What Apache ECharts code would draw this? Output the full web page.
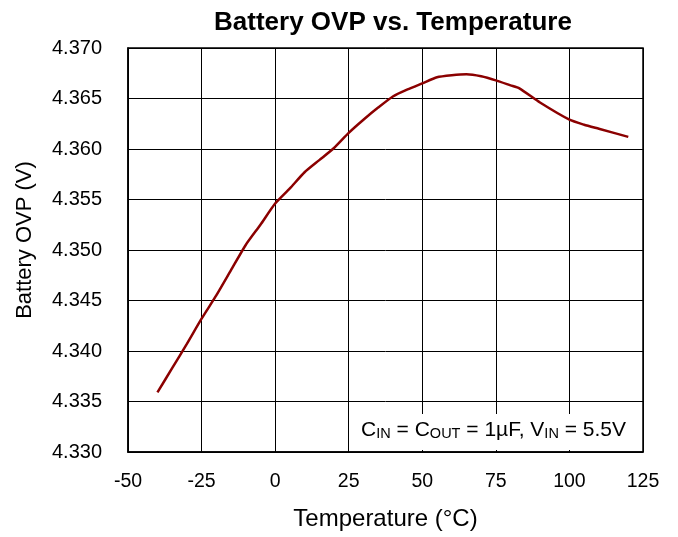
<!DOCTYPE html>
<html>
<head>
<meta charset="utf-8">
<script src="https://cdn.jsdelivr.net/npm/echarts@6/dist/echarts.min.js"></script>
<style>html,body{margin:0;padding:0;background:#fff;}#c{width:678px;height:537px;}</style>
</head>
<body>
<div id="c"></div>
<script>
var temperatures = [-40, -35, -30, -25, -20, -15, -10, -5, 0, 5, 10, 15, 20, 25, 30, 35, 40, 45, 50, 55, 60, 65, 70, 75, 80, 83, 90, 100, 105, 110, 120];
var ovp = [4.3359, 4.3383, 4.3407, 4.3432, 4.3455, 4.3480, 4.3505, 4.3525, 4.3546, 4.3561, 4.3577, 4.3589, 4.3601, 4.3616, 4.3629, 4.3641, 4.3652, 4.3659, 4.3665, 4.3671, 4.3673, 4.3674, 4.3672, 4.3668, 4.3663, 4.3660, 4.3646, 4.3629, 4.3624, 4.3620, 4.3612];
var xTicks = {min: -50, max: 125, interval: 25};
var yTicks = {min: 4.330, max: 4.370, interval: 0.005};

var chart = echarts.init(document.getElementById('c'), null, {renderer: 'canvas'});
var font = 'Liberation Sans, Arial, sans-serif';
chart.setOption({
  animation: false,
  backgroundColor: '#fff',
  title: {
    text: 'Battery OVP vs. Temperature',
    left: 388, top: 5, textAlign: 'center',
    textStyle: {fontFamily: font, fontSize: 26, fontWeight: 'bold', color: '#000'}
  },
  grid: {left: 128, right: 35, top: 48, bottom: 85, show: true, borderColor: '#000', borderWidth: 1.5, backgroundColor: 'transparent'},
  xAxis: {
    type: 'value', min: xTicks.min, max: xTicks.max, interval: xTicks.interval,
    name: 'Temperature (°C)', nameLocation: 'middle', nameGap: 55,
    nameTextStyle: {fontFamily: font, fontSize: 24, color: '#000'},
    axisLine: {show: true, onZero: false, lineStyle: {color: '#000', width: 1.5}},
    axisTick: {show: true, inside: true, length: 3, lineStyle: {color: '#000'}},
    axisLabel: {fontFamily: font, fontSize: 19.5, color: '#000', margin: 20},
    splitLine: {show: true, lineStyle: {color: '#000', width: 1}}
  },
  yAxis: {
    type: 'value', min: yTicks.min, max: yTicks.max, interval: yTicks.interval,
    name: 'Battery OVP (V)', nameLocation: 'middle', nameGap: 92,
    nameTextStyle: {fontFamily: font, fontSize: 22, color: '#000', padding: [0, 0, 0, 20]},
    axisLine: {show: true, onZero: false, lineStyle: {color: '#000', width: 1.5}},
    axisTick: {show: true, inside: true, length: 3, lineStyle: {color: '#000'}},
    axisLabel: {fontFamily: font, fontSize: 20, color: '#000', margin: 26,
      formatter: function (v) { return v.toFixed(3); }},
    splitLine: {show: true, lineStyle: {color: '#000', width: 1}}
  },
  series: [{
    type: 'line',
    data: temperatures.map(function (t, i) { return [t, ovp[i]]; }),
    showSymbol: false, symbol: 'none',
    lineStyle: {color: '#8b0000', width: 2.5},
    smooth: 0.2
  }],
  graphic: [
    {type: 'rect', z: 100, shape: {x: 352, y: 414, width: 289, height: 36}, style: {fill: '#fff'}},
    {type: 'text', z: 101, x: 626, y: 441,
      style: {
        text: '{m|C}{s|IN}{m| = C}{s|OUT}{m| = 1µF, V}{s|IN}{m| = 5.5V}',
        align: 'right', verticalAlign: 'bottom',
        rich: {
          m: {fontFamily: font, fontSize: 21, fill: '#000', color: '#000', verticalAlign: 'bottom', lineHeight: 22},
          s: {fontFamily: font, fontSize: 14.5, fill: '#000', color: '#000', verticalAlign: 'bottom', lineHeight: 18}
        }
      }
    }
  ]
});
</script>
</body>
</html>
